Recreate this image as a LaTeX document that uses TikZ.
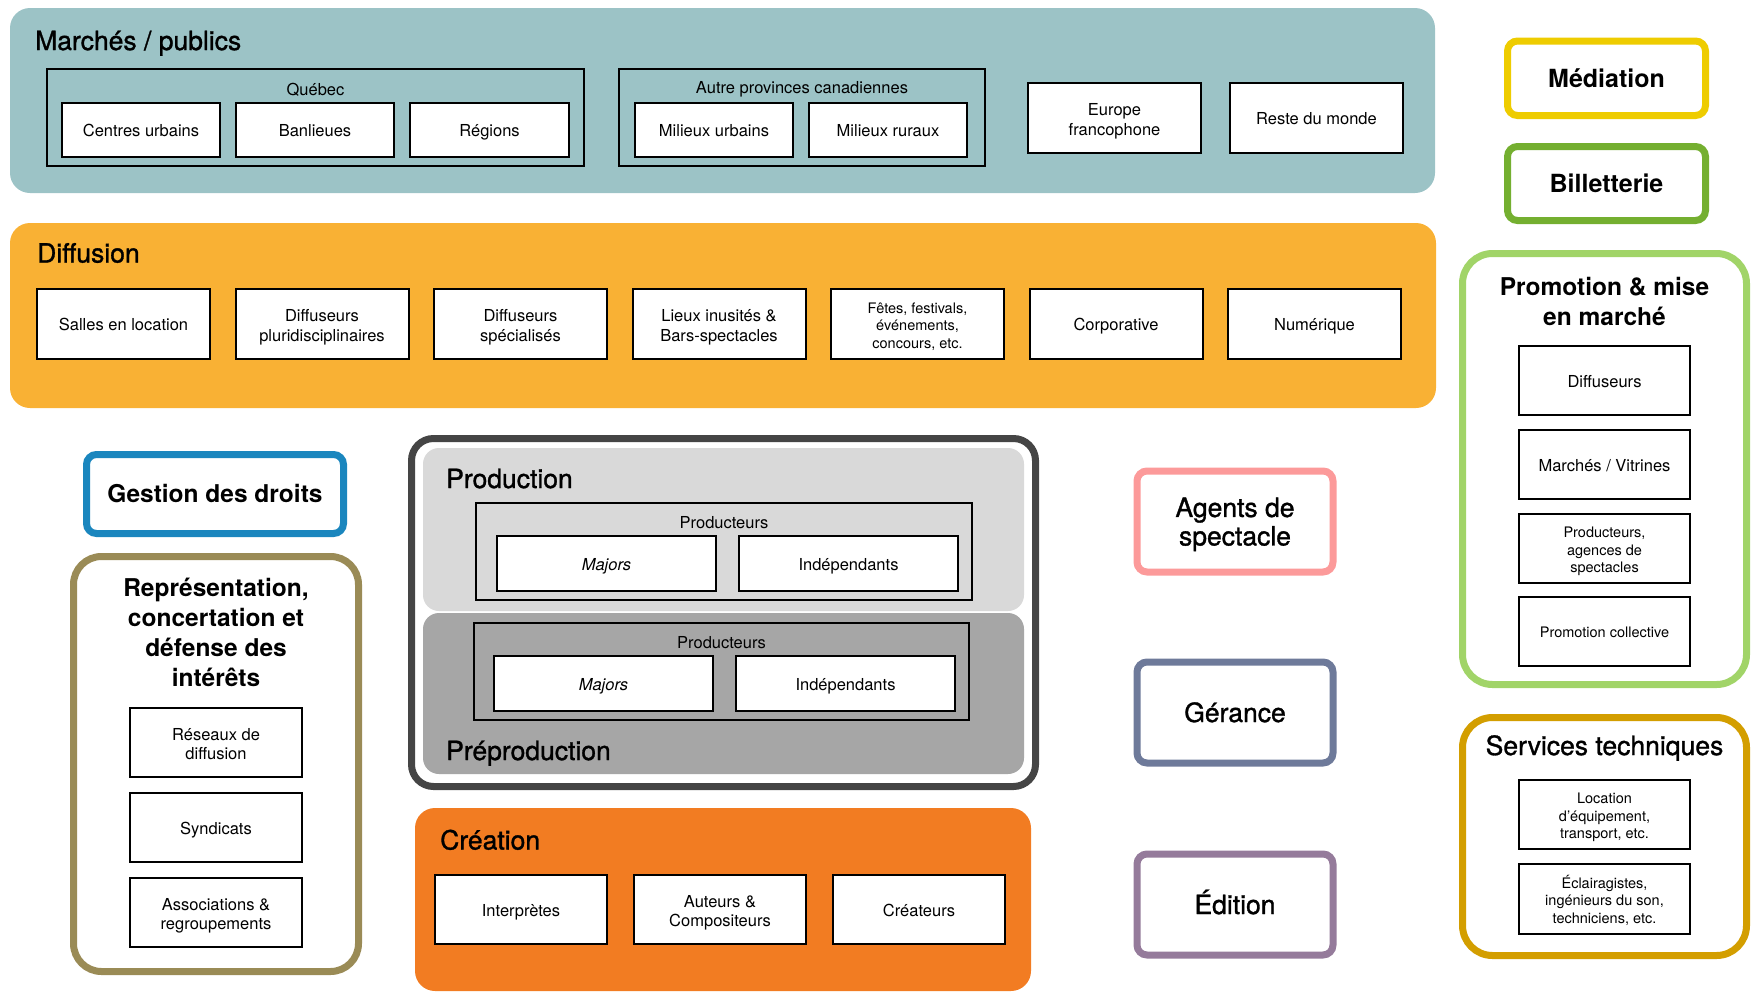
\documentclass[tikz,border=0pt]{standalone}
\usepackage{fontspec}
\setmainfont{TeX Gyre Heros}
\newfontfamily\medfont{TeX Gyre Heros}[FakeBold=1.2]

\definecolor{cMarche}{HTML}{9CC3C6}
\definecolor{cDiffusion}{HTML}{F9B134}
\definecolor{cCreation}{HTML}{F27C22}
\definecolor{cProdLight}{HTML}{D9D9D9}
\definecolor{cProdDark}{HTML}{A6A6A6}
\definecolor{cProdLine}{HTML}{454545}
\definecolor{cMediation}{HTML}{EECC00}
\definecolor{cBillet}{HTML}{74AF30}
\definecolor{cPromo}{HTML}{A1D468}
\definecolor{cServ}{HTML}{D39E00}
\definecolor{cAgents}{HTML}{FC9A9A}
\definecolor{cGerance}{HTML}{6E7A9A}
\definecolor{cEdition}{HTML}{957B9B}
\definecolor{cGestion}{HTML}{1A86BE}
\definecolor{cRepr}{HTML}{9A8B56}

% \cell{name}{x1}{y1}{x2}{y2}{style}{text}: box spanning two corners
\newcommand\cell[7]{%
  \pgfmathsetmacro\cellw{#4-#2}\pgfmathsetmacro\cellh{#5-#3}%
  \node[#6, minimum width=\cellw pt, minimum height=\cellh pt] (#1) at ({(#2+#4)/2},{(#3+#5)/2}) {#7};}

% centred text block with a fixed height above the last baseline,
% so that the box places its lines the same way whatever the letters
\newcommand\blk[2]{\raisebox{0pt}[#1pt][0pt]{\begin{tabular}[b]{@{}c@{}}#2\end{tabular}}}
\newcommand\one[1]{\blk{13.8}{#1}}
\newcommand\two[1]{\blk{34.8}{#1}}
\newcommand\sone[1]{\blk{12.4}{#1}}
\newcommand\sthree[1]{\blk{48}{#1}}
\newcommand\mone[1]{\blk{19}{#1}}
\newcommand\mtwo[1]{\blk{47.9}{#1}}

\begin{document}
\begin{tikzpicture}[x=1pt,y=-1pt,
  panel/.style={draw=none, rounded corners=20pt, inner sep=0pt},
  grp/.style={draw=black, line width=2pt, inner sep=0pt},
  wbase/.style={draw=black, line width=2pt, fill=white, inner sep=0pt},
  wbox/.style={wbase, font=\fontsize{16.5}{19.5}\selectfont},
  wsmall/.style={wbase, font=\fontsize{14.5}{17.3}\selectfont},
  lbl/.style={align=center, inner sep=0pt, font=\fontsize{16.5}{20}\selectfont},
  htitle/.style={inner sep=0pt, font=\medfont\fontsize{26.5}{30}\selectfont},
  cbox/.style={line width=7pt, rounded corners=10pt, fill=white, inner sep=0pt},
  medlbl/.style={font=\medfont\fontsize{26.5}{28.5}\selectfont},
  boldlbl/.style={font=\bfseries\fontsize{24.5}{30}\selectfont},
]
\useasboundingbox (0,0) rectangle (1751,991);

% ---------- Marchés / publics ----------
\cell{marches}{10}{8}{1435}{193}{panel, fill=cMarche}{}
\node[htitle, anchor=base west] (tMarches) at (35,50) {Marchés / publics};
\cell{quebec}{47}{69}{584}{166}{grp}{}
\node[lbl] (tQuebec) at (315.5,89.5) {Québec};
\cell{centres}{62}{103}{220}{157}{wbox}{\one{Centres urbains}}
\cell{banlieues}{236}{103}{394}{157}{wbox}{\one{Banlieues}}
\cell{regions}{410}{103}{569}{157}{wbox}{\one{Régions}}
\cell{autres}{619}{69}{985}{166}{grp}{}
\node[lbl] (tAutres) at (802,89.5) {Autre provinces canadiennes};
\cell{milurb}{635}{103}{793}{157}{wbox}{\one{Milieux urbains}}
\cell{milrur}{809}{103}{967}{157}{wbox}{\one{Milieux ruraux}}
\cell{europe}{1028}{83}{1201}{153}{wbox}{\two{Europe\\francophone}}
\cell{reste}{1230}{83}{1403}{153}{wbox}{\one{Reste du monde}}

% ---------- Diffusion ----------
\cell{diffusion}{10}{223}{1436}{408}{panel, fill=cDiffusion}{}
\node[htitle, anchor=base west] (tDiffusion) at (37,262.5) {Diffusion};
\cell{salles}{37}{289}{210}{359}{wbox}{\one{Salles en location}}
\cell{diffpluri}{235.5}{289}{408.5}{359}{wbox}{\two{Diffuseurs\\pluridisciplinaires}}
\cell{diffspec}{434}{289}{607}{359}{wbox}{\two{Diffuseurs\\spécialisés}}
\cell{lieux}{632.5}{289}{805.5}{359}{wbox}{\two{Lieux inusités \&\\Bars-spectacles}}
\cell{fetes}{831}{289}{1004}{359}{wsmall}{\sthree{Fêtes, festivals,\\événements,\\concours, etc.}}
\cell{corpo}{1029.5}{289}{1202.5}{359}{wbox}{\one{Corporative}}
\cell{numerique}{1228}{289}{1401}{359}{wbox}{\one{Numérique}}

% ---------- Médiation, Billetterie ----------
\cell{mediation}{1507.5}{41}{1705.5}{115.5}{cbox, draw=cMediation, font=\bfseries\fontsize{25}{30}\selectfont}{Médiation}
\cell{billet}{1507.5}{146.5}{1705.5}{220.5}{cbox, draw=cBillet, font=\bfseries\fontsize{25}{30}\selectfont}{Billetterie}

% ---------- Promotion & mise en marché ----------
\cell{promo}{1462.5}{253.5}{1746.5}{684.5}{cbox, draw=cPromo, rounded corners=30pt}{}
\node[boldlbl, align=center, inner sep=0pt] (tPromo) at (1604.5,301) {Promotion \& mise\\en marché};
\cell{pdiff}{1519}{346}{1690}{415}{wbox}{\one{Diffuseurs}}
\cell{pvitr}{1519}{430}{1690}{499}{wbox}{\one{Marchés / Vitrines}}
\cell{pprod}{1519}{514}{1690}{583}{wsmall}{\sthree{Producteurs,\\agences de\\spectacles}}
\cell{pcoll}{1519}{597}{1690}{666}{wsmall}{\sone{Promotion collective}}

% ---------- Services techniques ----------
\cell{serv}{1462.5}{717.5}{1746.5}{955.5}{cbox, draw=cServ, rounded corners=30pt}{}
\node[medlbl, inner sep=0pt] (tServ) at (1604.5,748) {Services techniques};
\cell{sloc}{1519}{780}{1690}{849}{wsmall}{\sthree{Location\\d'équipement,\\transport, etc.}}
\cell{secl}{1519}{864}{1690}{934}{wsmall}{\sthree{Éclairagistes,\\ingénieurs du son,\\techniciens, etc.}}

% ---------- Gestion des droits, Représentation ----------
\cell{gestion}{86.5}{454.5}{343.5}{533.5}{cbox, draw=cGestion, boldlbl}{Gestion des droits}
\cell{repr}{73.5}{556.5}{358.5}{971.5}{cbox, draw=cRepr, rounded corners=28pt}{}
\node[boldlbl, align=center, inner sep=0pt] (tRepr) at (216,632) {Représentation,\\concertation et\\défense des\\intérêts};
\cell{reseaux}{130}{708}{302}{777}{wbox}{\two{Réseaux de\\diffusion}}
\cell{syndicats}{130}{793}{302}{862}{wbox}{\one{Syndicats}}
\cell{assoc}{130}{878}{302}{947}{wbox}{\two{Associations \&\\regroupements}}

% ---------- Production / Préproduction ----------
\cell{prodframe}{411.5}{438.5}{1035.5}{786.5}{draw=cProdLine, line width=7pt, rounded corners=22pt, fill=white, inner sep=0pt}{}
\cell{prod}{423}{448}{1024}{611}{panel, fill=cProdLight, rounded corners=16pt}{}
\cell{preprod}{423}{613}{1024}{774}{panel, fill=cProdDark, rounded corners=16pt}{}
\node[htitle, anchor=base west] (tProd) at (446,488) {Production};
\node[htitle, anchor=base west] (tPreprod) at (446,760) {Préproduction};
\cell{prodgrp}{476}{503}{972}{600}{grp}{}
\node[lbl] (tProdgrp) at (724,523) {Producteurs};
\cell{prodmaj}{497}{536}{716}{591}{wbox}{\one{\textit{Majors}}}
\cell{prodind}{739}{536}{958}{591}{wbox}{\one{Indépendants}}
\cell{pregrp}{474}{623}{969}{720}{grp}{}
\node[lbl] (tPregrp) at (721.5,643) {Producteurs};
\cell{premaj}{494}{656}{713}{711}{wbox}{\one{\textit{Majors}}}
\cell{preind}{736}{656}{955}{711}{wbox}{\one{Indépendants}}

% ---------- Création ----------
\cell{creation}{415}{808}{1031}{991}{panel, fill=cCreation}{}
\node[htitle, anchor=base west] (tCreation) at (440,849.5) {Création};
\cell{interp}{435}{875}{607}{944}{wbox}{\one{Interprètes}}
\cell{auteurs}{634}{875}{806}{944}{wbox}{\two{Auteurs \&\\Compositeurs}}
\cell{createurs}{833}{875}{1005}{944}{wbox}{\one{Créateurs}}

% ---------- Agents, Gérance, Édition ----------
\cell{agents}{1137}{471}{1333}{572}{cbox, draw=cAgents, medlbl}{\mtwo{Agents de\\spectacle}}
\cell{gerance}{1137}{662}{1333}{763}{cbox, draw=cGerance, medlbl}{\mone{Gérance}}
\cell{edition}{1137}{854}{1333}{955}{cbox, draw=cEdition, medlbl}{\mone{Édition}}
\end{tikzpicture}
\end{document}
